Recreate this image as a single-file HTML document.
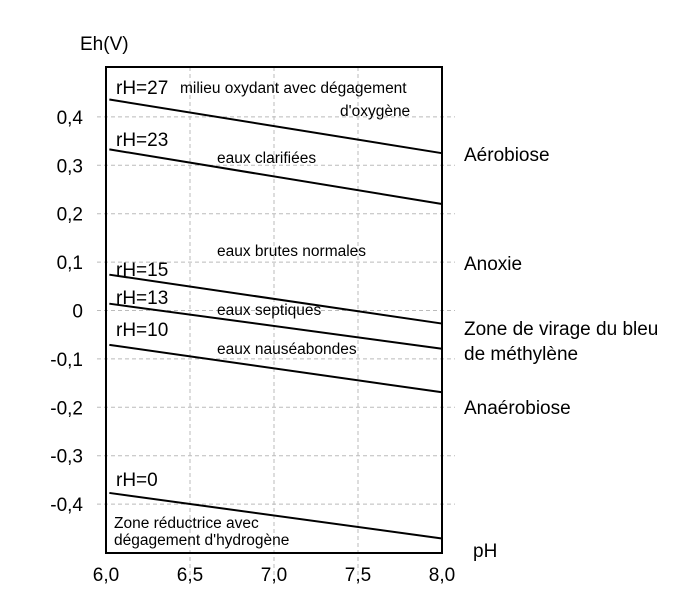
<!DOCTYPE html>
<html><head><meta charset="utf-8"><style>
body{margin:0;background:#fff;width:697px;height:593px;overflow:hidden;font-family:"Liberation Sans",Arial,sans-serif}
svg text{font-family:"Liberation Sans",Arial,sans-serif;fill:#000}
</style></head><body>
<svg id="chart" width="697" height="593" xmlns="http://www.w3.org/2000/svg">
<g id="grid"></g>
<g id="lines"></g>
<g id="ticks"></g>
<rect x="106" y="67" width="336" height="486" fill="none" stroke="#000" stroke-width="2"/>
<text x="80" y="50" font-size="19">Eh(V)</text>
<text x="473" y="557" font-size="19">pH</text>
<g font-size="19">
<text x="116" y="94">rH=27</text>
<text x="116" y="146">rH=23</text>
<text x="116" y="276">rH=15</text>
<text x="116" y="304">rH=13</text>
<text x="116" y="336">rH=10</text>
<text x="116" y="486">rH=0</text>
</g>
<g font-size="15.5">
<text x="180" y="93">milieu oxydant avec dégagement</text>
<text x="340" y="116">d'oxygène</text>
<text x="217" y="163">eaux clarifiées</text>
<text x="217" y="256">eaux brutes normales</text>
<text x="217" y="315">eaux septiques</text>
<text x="217" y="354">eaux nauséabondes</text>
<text x="114" y="528">Zone réductrice avec</text>
<text x="114" y="545">dégagement d'hydrogène</text>
</g>
<g font-size="19">
<text x="464" y="161">Aérobiose</text>
<text x="464" y="270">Anoxie</text>
<text x="464" y="335">Zone de virage du bleu</text>
<text x="464" y="360">de méthylène</text>
<text x="464" y="414">Anaérobiose</text>
</g>
</svg>
<script>
const rhNames = ["rH=27","rH=23","rH=15","rH=13","rH=10","rH=0"];
const ehAtPh6 = [0.437, 0.334, 0.075, 0.015, -0.070, -0.376];
const ehAtPh8 = [0.325, 0.220, -0.027, -0.079, -0.169, -0.471];
const xTicks = [6.0, 6.5, 7.0, 7.5, 8.0];
const xTickLabels = ["6,0","6,5","7,0","7,5","8,0"];
const yTicks = [0.4,0.3,0.2,0.1,0,-0.1,-0.2,-0.3,-0.4];
const yTickLabels = ["0,4","0,3","0,2","0,1","0","-0,1","-0,2","-0,3","-0,4"];
const NS="http://www.w3.org/2000/svg";
const X = v => 106 + (v-6)*168;
const Y = v => 310.5 - v*484;
function mk(tag, attrs, parent, txt){const e=document.createElementNS(NS,tag);for(const k in attrs)e.setAttribute(k,attrs[k]);if(txt!==undefined)e.textContent=txt;parent.appendChild(e);return e;}
const grid=document.getElementById('grid'), ticks=document.getElementById('ticks'), lines=document.getElementById('lines');
yTicks.forEach((v,i)=>{
  const g=mk('line',{x1:97,x2:455,y1:Y(v),y2:Y(v),stroke:'#bbb','stroke-dasharray':'4,3','stroke-width':1},grid);
  
  
  const t=mk('text',{x:83,y:Y(v)+7,'font-size':19,'text-anchor':'end'},ticks,yTickLabels[i]);
  
  
});
xTicks.forEach((v,i)=>{
  if(i>0&&i<xTicks.length-1){
    const g=mk('line',{x1:X(v),x2:X(v),y1:67,y2:575,stroke:'#bbb','stroke-dasharray':'4,3','stroke-width':1},grid);
    
    
  }
  const t=mk('text',{x:X(v),y:581,'font-size':19,'text-anchor':'middle'},ticks,xTickLabels[i]);
  
  
});
rhNames.forEach((n,i)=>{
  const l=mk('line',{x1:X(6.02),y1:Y(ehAtPh6[i]+(ehAtPh8[i]-ehAtPh6[i])*0.01),x2:X(8.0),y2:Y(ehAtPh8[i]),stroke:'#000','stroke-width':2},lines);
  
  
});
</script>
</body></html>
